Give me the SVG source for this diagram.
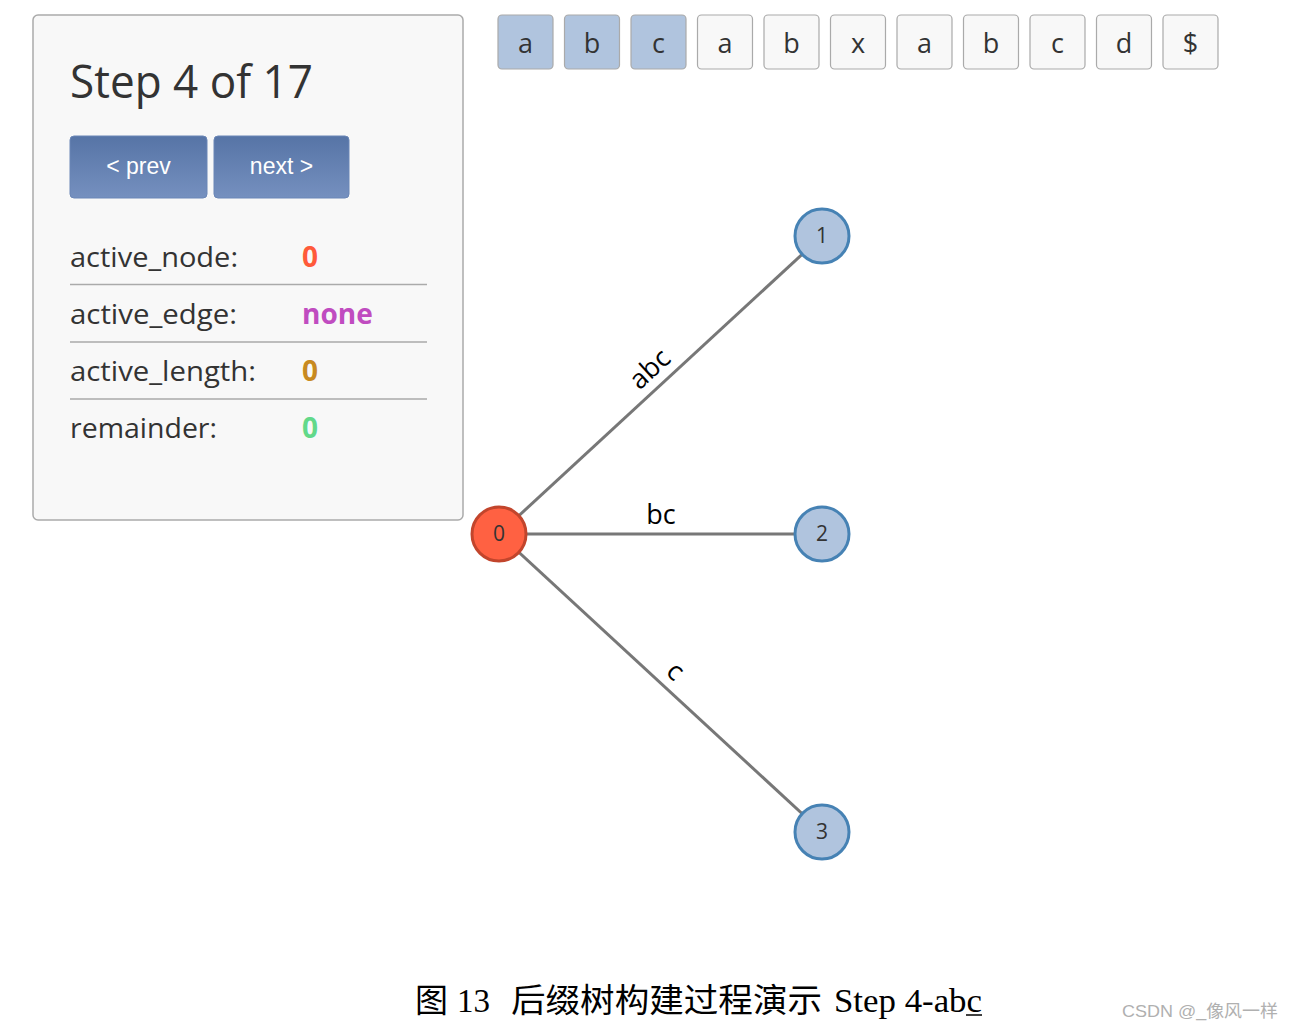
<svg xmlns="http://www.w3.org/2000/svg" width="1294" height="1029" viewBox="0 0 1294 1029">
<defs>
<linearGradient id="btn" x1="0" y1="0" x2="0" y2="1">
<stop offset="0" stop-color="#5674a6"/>
<stop offset="1" stop-color="#7590bf"/>
</linearGradient>
</defs>
<style>
.ui{font-family:"Open Sans","Noto Sans",sans-serif;fill:#333}
.lbl{font-size:28px}
.val{font-size:28px;font-weight:bold}
.sep{stroke:#aaa;stroke-width:1.5}
.btn{fill:url(#btn);stroke:#6a86b6;stroke-width:1}
.btxt{font-family:"Liberation Sans",Arial,sans-serif;font-size:23px;fill:#fff;text-anchor:middle}
.box{fill:#f8f8f8;stroke:#aaa;stroke-width:1.2}
.box.on{fill:#b0c4de}
.ch{font-family:"Open Sans","Noto Sans",sans-serif;font-size:27px;fill:#333;text-anchor:middle}
.edge{stroke:#777;stroke-width:3;fill:none}
.elbl{font-family:"Open Sans","Noto Sans",sans-serif;font-size:27px;fill:#000;text-anchor:middle}
.node circle{stroke-width:3}
.leaf circle{fill:#b0c4de;stroke:#4682b4}
.root circle{fill:#ff6142;stroke:#c2452c}
.ntxt{font-family:"Open Sans","Noto Sans",sans-serif;font-size:21px;fill:#333;text-anchor:middle}
</style>
<rect width="1294" height="1029" fill="#fff"/>

<g id="panel">
<rect x="33" y="15" width="430" height="505" rx="5" fill="#f8f8f8" stroke="#aaa" stroke-width="1.5"/>
<text class="ui" x="70" y="98" font-size="45" textLength="243" lengthAdjust="spacingAndGlyphs" style="fill:#333">Step 4 of 17</text>
<g id="btn-prev">
<rect class="btn" x="70" y="136" width="137" height="62" rx="4"/>
<text class="btxt" x="138.5" y="174">&lt; prev</text>
</g>
<g id="btn-next">
<rect class="btn" x="214" y="136" width="135" height="62" rx="4"/>
<text class="btxt" x="281.5" y="174">next &gt;</text>
</g>
<text class="ui lbl" x="70" y="267" textLength="168" lengthAdjust="spacingAndGlyphs">active_node:</text>
<text class="ui val" x="302" y="267" style="fill:#ff5a3a">0</text>
<line class="sep" x1="70" y1="284.5" x2="427" y2="284.5"/>
<text class="ui lbl" x="70" y="324" textLength="167" lengthAdjust="spacingAndGlyphs">active_edge:</text>
<text class="ui val" x="302" y="324" style="fill:#c04cc0">none</text>
<line class="sep" x1="70" y1="342" x2="427" y2="342"/>
<text class="ui lbl" x="70" y="381" textLength="186" lengthAdjust="spacingAndGlyphs">active_length:</text>
<text class="ui val" x="302" y="381" style="fill:#c88a20">0</text>
<line class="sep" x1="70" y1="399" x2="427" y2="399"/>
<text class="ui lbl" x="70" y="438" textLength="147" lengthAdjust="spacingAndGlyphs">remainder:</text>
<text class="ui val" x="302" y="438" style="fill:#62d98a">0</text>
</g>

<g id="string">
<rect class="box on" x="498" y="15" width="55" height="54" rx="4"/><text class="ch" x="525.5" y="53">a</text>
<rect class="box on" x="564.5" y="15" width="55" height="54" rx="4"/><text class="ch" x="592" y="53">b</text>
<rect class="box on" x="631" y="15" width="55" height="54" rx="4"/><text class="ch" x="658.5" y="53">c</text>
<rect class="box" x="697.5" y="15" width="55" height="54" rx="4"/><text class="ch" x="725" y="53">a</text>
<rect class="box" x="764" y="15" width="55" height="54" rx="4"/><text class="ch" x="791.5" y="53">b</text>
<rect class="box" x="830.5" y="15" width="55" height="54" rx="4"/><text class="ch" x="858" y="53">x</text>
<rect class="box" x="897" y="15" width="55" height="54" rx="4"/><text class="ch" x="924.5" y="53">a</text>
<rect class="box" x="963.5" y="15" width="55" height="54" rx="4"/><text class="ch" x="991" y="53">b</text>
<rect class="box" x="1030" y="15" width="55" height="54" rx="4"/><text class="ch" x="1057.5" y="53">c</text>
<rect class="box" x="1096.5" y="15" width="55" height="54" rx="4"/><text class="ch" x="1124" y="53">d</text>
<rect class="box" x="1163" y="15" width="55" height="54" rx="4"/><text class="ch" x="1190.5" y="53">$</text>
</g>

<g id="connectors">
<line class="edge" x1="499" y1="534" x2="822" y2="236"/>
<line class="edge" x1="499" y1="534" x2="822" y2="534"/>
<line class="edge" x1="499" y1="534" x2="822" y2="832"/>
<text class="elbl" transform="translate(660.5,385) rotate(-42.7)" x="3" y="-10">abc</text>
<text class="elbl" x="661" y="524">bc</text>
<text class="elbl" transform="translate(660.5,683) rotate(42.7)" x="3" y="-10">c</text>
</g>

<g id="node-0" class="node root"><circle cx="499" cy="534" r="27"/><text class="ntxt" x="499" y="541">0</text></g>
<g id="node-1" class="node leaf"><circle cx="822" cy="236" r="27"/><text class="ntxt" x="822" y="243">1</text></g>
<g id="node-2" class="node leaf"><circle cx="822" cy="534" r="27"/><text class="ntxt" x="822" y="541">2</text></g>
<g id="node-3" class="node leaf"><circle cx="822" cy="832" r="27"/><text class="ntxt" x="822" y="839">3</text></g>

<g id="caption" font-family="'Liberation Serif','Noto Sans CJK SC',serif" font-size="33" fill="#000">
<text x="415" y="1012">图</text>
<text x="457" y="1012">13</text>
<text x="511" y="1012" textLength="311" lengthAdjust="spacingAndGlyphs">后缀树构建过程演示</text>
<text x="834" y="1012" textLength="148" lengthAdjust="spacingAndGlyphs">Step 4-abc</text>
<line x1="966" y1="1015" x2="982" y2="1015" stroke="#000" stroke-width="1.5"/>
</g>
<text x="1122" y="1017" font-family="'Liberation Sans','Noto Sans CJK SC',sans-serif" font-size="17" fill="#b0b0b0" textLength="156" lengthAdjust="spacingAndGlyphs">CSDN @_像风一样</text>
</svg>
